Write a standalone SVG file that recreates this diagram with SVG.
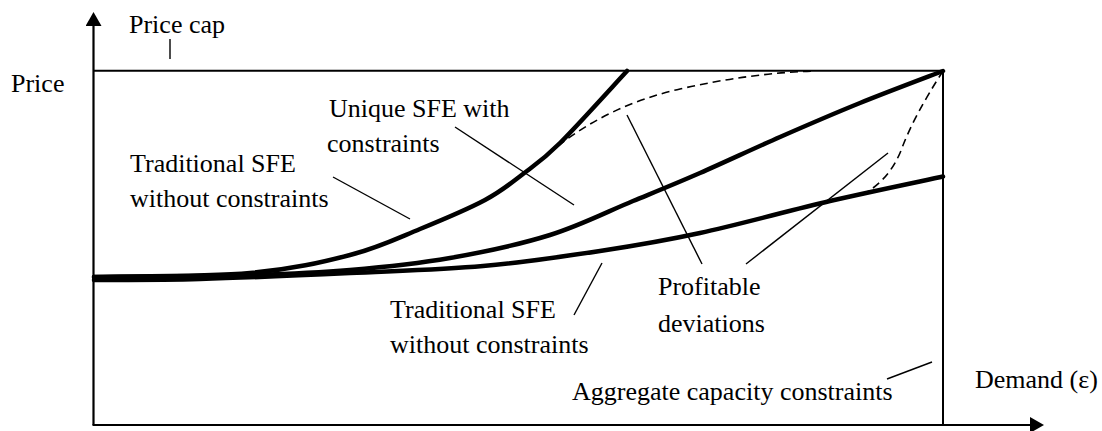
<svg xmlns="http://www.w3.org/2000/svg" width="1102" height="431" viewBox="0 0 1102 431">
  <style>
    .lbl { font-family: "Liberation Serif", "Times New Roman", serif; font-size: 26px; fill: #000; }
    .axis { stroke: #000; stroke-width: 2.2; fill: none; }
    .frame { stroke: #000; stroke-width: 2; fill: none; }
    .curve { stroke: #000; stroke-width: 4.5; fill: none; stroke-linecap: round; stroke-linejoin: round; }
    .dash { stroke: #000; stroke-width: 1.6; fill: none; stroke-dasharray: 8 5; }
    .lead { stroke: #000; stroke-width: 1.4; fill: none; }
  </style>
  <defs>
    <marker id="arrow" viewBox="0 0 14 16" refX="0" refY="8" markerWidth="14" markerHeight="16" markerUnits="userSpaceOnUse" orient="auto">
      <path d="M0,0 L14,8 L0,16 Z" fill="#000"/>
    </marker>
  </defs>
  <rect width="1102" height="431" fill="#fff"/>

  <!-- axes -->
  <g id="axes">
    <line class="axis" x1="93.5" y1="425" x2="93.5" y2="26" marker-end="url(#arrow)"/>
    <line class="axis" x1="92.5" y1="425" x2="1030" y2="425" marker-end="url(#arrow)"/>
    <text class="lbl" x="11" y="92">Price</text>
    <text class="lbl" x="975" y="388">Demand (ε)</text>
  </g>

  <!-- price cap and aggregate capacity bound -->
  <g id="bounds">
    <line class="frame" x1="93.5" y1="70.7" x2="943" y2="70.7"/>
    <line class="frame" x1="943" y1="70" x2="943" y2="425"/>
  </g>

  <!-- supply function equilibria -->
  <g id="curves">
    <path id="sfe-steep" class="curve" d="M94,277 C120,276.2 207.3,276.8 250,273 C292.7,269.2 321.7,262.3 350,255 C378.3,247.7 397.5,238.2 420,229 C442.5,219.8 467.8,209.2 485,200 C502.2,190.8 510.5,183.5 523,174 C535.5,164.5 542.7,160.2 560,143 C577.3,125.8 615.8,83 627,71"/>
    <path id="sfe-unique" class="curve" d="M94,277 C120,276.7 207.3,276.2 250,275 C292.7,273.8 316.7,272.8 350,270 C383.3,267.2 416.7,263.8 450,258 C483.3,252.2 519.5,244.5 550,235 C580.5,225.5 608,211.3 633,201 C658,190.7 675.5,183.7 700,173 C724.5,162.3 753.3,148.7 780,137 C806.7,125.3 832.8,114 860,103 C887.2,92 929.2,76.3 943,71"/>
    <path id="sfe-flat" class="curve" d="M94,280 C111.7,279.8 157.3,280.2 200,279 C242.7,277.8 302.8,275.2 350,273 C397.2,270.8 441.3,269.7 483,266 C524.7,262.3 563.8,256.5 600,251 C636.2,245.5 661.7,241.3 700,233 C738.3,224.7 789.5,210.4 830,201 C870.5,191.6 924.2,180.6 943,176.5"/>
    <path id="dev-upper" class="dash" d="M558,146 Q610,105 680,89 T815,71"/>
    <path id="dev-lower" class="dash" d="M862,195 Q890,180 902,148 T943,71"/>
  </g>

  <!-- labels and their leader lines -->
  <g id="label-price-cap">
    <text class="lbl" x="129" y="33">Price cap</text>
    <line class="lead" x1="170" y1="39" x2="170" y2="59"/>
  </g>
  <g id="label-unique">
    <text class="lbl" x="329" y="117">Unique SFE with</text>
    <text class="lbl" x="327" y="152">constraints</text>
    <line class="lead" x1="455" y1="127" x2="574" y2="205"/>
  </g>
  <g id="label-traditional-upper">
    <text class="lbl" x="130" y="172">Traditional SFE</text>
    <text class="lbl" x="130" y="207">without constraints</text>
    <line class="lead" x1="333" y1="177" x2="410" y2="219"/>
  </g>
  <g id="label-traditional-lower">
    <text class="lbl" x="390" y="318">Traditional SFE</text>
    <text class="lbl" x="390" y="353">without constraints</text>
    <line class="lead" x1="574" y1="315" x2="602" y2="263"/>
  </g>
  <g id="label-deviations">
    <text class="lbl" x="658" y="295">Profitable</text>
    <text class="lbl" x="658" y="332">deviations</text>
    <line class="lead" x1="627" y1="115" x2="702" y2="264"/>
    <line class="lead" x1="888" y1="153" x2="746" y2="264"/>
  </g>
  <g id="label-capacity">
    <text class="lbl" x="572" y="400">Aggregate capacity constraints</text>
    <line class="lead" x1="887" y1="379" x2="932" y2="362"/>
  </g>
</svg>
